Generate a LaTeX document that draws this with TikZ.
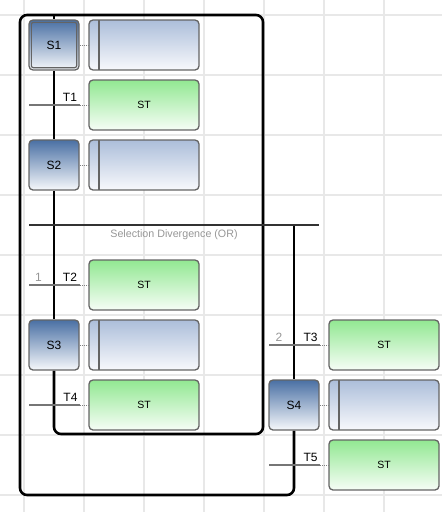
\documentclass[tikz,border=0pt]{standalone}
\usepackage{fontspec}
\setmainfont{Liberation Sans}
\usetikzlibrary{positioning, backgrounds}

\definecolor{gridgray}{RGB}{232,232,232}
\definecolor{boxline}{RGB}{100,100,100}
\definecolor{stepblue}{RGB}{74,112,164}
\definecolor{stepwhite}{RGB}{246,248,251}
\definecolor{actblue}{RGB}{172,190,218}
\definecolor{actwhite}{RGB}{248,249,252}
\definecolor{stgreen}{RGB}{146,232,146}
\definecolor{stwhite}{RGB}{246,253,246}
\definecolor{transgray}{RGB}{118,118,118}
\definecolor{divgray}{RGB}{50,50,50}
\definecolor{priogray}{RGB}{150,150,150}

\begin{document}
\begin{tikzpicture}[x=1pt, y=-1pt,
  stepbox/.style={draw=boxline, line width=1.3pt, rounded corners=4pt,
    minimum width=50pt, minimum height=50pt, inner sep=0pt,
    top color=stepblue, bottom color=stepwhite, font=\fontsize{12}{14}\selectfont},
  actbox/.style={draw=boxline, line width=1.3pt, rounded corners=4pt,
    minimum width=110pt, minimum height=50pt, inner sep=0pt,
    top color=actblue, bottom color=actwhite,
    path picture={\draw[boxline, line width=1.3pt]
      ([xshift=10pt]path picture bounding box.north west) --
      ([xshift=10pt]path picture bounding box.south west);}},
  stbox/.style={draw=boxline, line width=1.3pt, rounded corners=4pt,
    minimum width=110pt, minimum height=50pt, inner sep=0pt,
    top color=stgreen, bottom color=stwhite, font=\fontsize{10.5}{12}\selectfont},
  transbar/.style={fill=transgray, minimum width=51pt, minimum height=2pt, inner sep=0pt},
  tlabel/.style={font=\fontsize{12}{14}\selectfont, inner sep=0pt},
  prio/.style={tlabel, text=priogray},
  link/.style={draw=gray, line width=1pt, dash pattern=on 1pt off 1pt},
  flow/.style={line width=2.6pt, black}]

\useasboundingbox (0,0) rectangle (442,512);
\clip (0,0) rectangle (442,512);

% Left branch
\node[stepbox] (S1) at (54,45) {S1};
\draw[boxline, line width=1.2pt, rounded corners=2pt]
  ([xshift=3pt,yshift=-3pt]S1.north west) rectangle ([xshift=-3pt,yshift=3pt]S1.south east);
\node[actbox] (A1) at (144,45) {};
\node[transbar] (T1) at (54.5,105) {};
\node[tlabel] (T1l) at (70,97.5) {T1};
\node[stbox] (ST1) at (144,105) {ST};
\node[stepbox] (S2) at (54,165) {S2};
\node[actbox] (A2) at (144,165) {};

% Divergence
\node[fill=divgray, minimum width=290pt, minimum height=2pt, inner sep=0pt] (div) at (174,225) {};
\node[text=priogray, font=\fontsize{10.7}{12}\selectfont] (divl) at (174,235) {Selection Divergence (OR)};
\coordinate (D2) at (294,225);

\node[transbar] (T2) at (54.5,285) {};
\node[prio] (P1) at (38.5,277) {1};
\node[tlabel] (T2l) at (70,277) {T2};
\node[stbox] (ST2) at (144,285) {ST};
\node[stepbox] (S3) at (54,345) {S3};
\node[actbox] (A3) at (144,345) {};
\node[transbar] (T4) at (54.5,405) {};
\node[tlabel] (T4l) at (70.5,397) {T4};
\node[stbox] (ST4) at (144,405) {ST};

% Right branch
\node[transbar] (T3) at (294.5,345) {};
\node[prio] (P2) at (279,337) {2};
\node[tlabel] (T3l) at (310.5,337) {T3};
\node[stbox] (ST3) at (384,345) {ST};
\node[stepbox] (S4) at (294,405) {S4};
\node[actbox] (A4) at (384,405) {};
\node[transbar] (T5) at (294.5,465) {};
\node[tlabel] (T5l) at (310.5,457) {T5};
\node[stbox] (ST5) at (384,465) {ST};

% dotted links
\foreach \a/\b in {S1/A1, S2/A2, S3/A3, S4/A4, T1/ST1, T2/ST2, T3/ST3, T4/ST4, T5/ST5}
  \draw[link] (\a.east) -- (\b.west);

% loop corners
\coordinate (J1) at (54,15);
\coordinate (C1) at (294,495);
\coordinate (C2) at (20,495);
\coordinate (C3) at (20,15);
\coordinate (C4) at (263,15);
\coordinate (C5) at (263,434);
\coordinate (C6) at (54,434);

\begin{scope}[on background layer]
  % grid
  \foreach \x in {24,84,...,384}
    \draw[gridgray, line width=2pt] (\x,0) -- (\x,512);
  \foreach \y in {15,75,...,495}
    \draw[gridgray, line width=2pt] (0,\y) -- (442,\y);
  % sequence lines
  \draw[flow] (S1.south) -- (S2.north);
  \draw[flow] (S2.south) -- (S3.north);
  \draw[flow] (D2) -- (S4.north);
  \draw[flow] (J1) -- (S1.north);
  \draw[flow, rounded corners=7pt] (S4.south) -- (C1) -- (C2) -- (C3) -- (C4) -- (C5) -- (C6) -- (S3.south);
\end{scope}
\end{tikzpicture}
\end{document}
